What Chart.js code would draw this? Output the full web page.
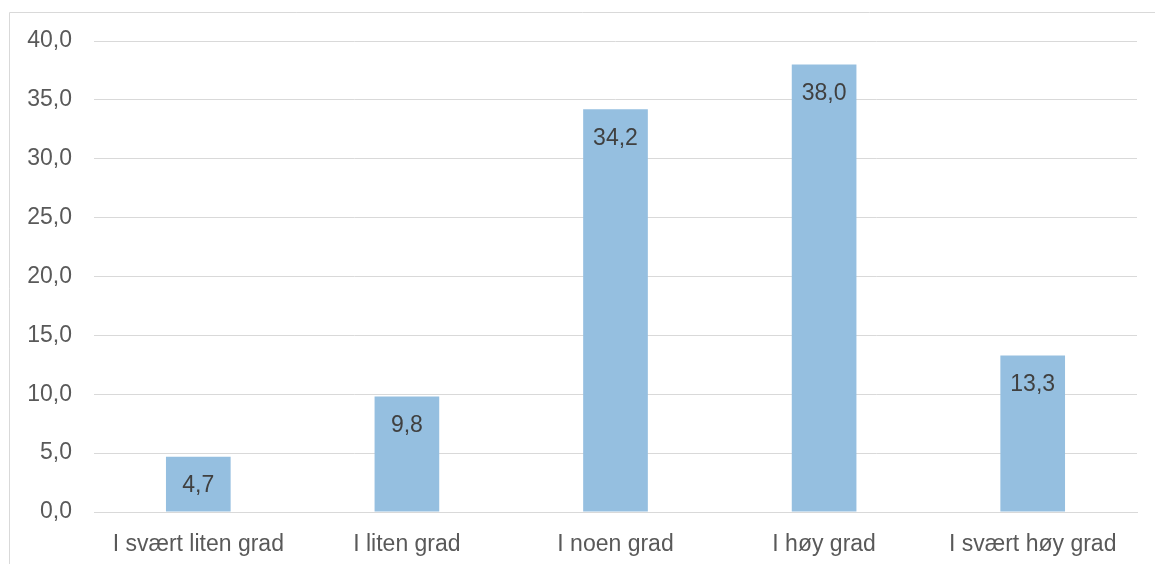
<!DOCTYPE html>
<html>
<head>
<meta charset="utf-8">
<script src="https://cdn.jsdelivr.net/npm/chart.js@4"></script>
<style>
  html, body { margin: 0; padding: 0; background: #fff; }
  #wrap { width: 1155px; height: 564px; position: relative; }
</style>
</head>
<body>
<div id="wrap"><canvas id="chart" width="1155" height="564"></canvas></div>
<script>
const categories = ['I svært liten grad', 'I liten grad', 'I noen grad', 'I høy grad', 'I svært høy grad'];
const values = [4.7, 9.8, 34.2, 38.0, 13.3];
const yTicks = [0, 5, 10, 15, 20, 25, 30, 35, 40];

const textColor = '#595959';
const gridColor = '#D9D9D9';
const fontFamily = '"Liberation Sans", Arial, sans-serif';
const fontSize = 23;

const fmt = v => v.toFixed(1).replace('.', ',');

// frame around the chart, like the copied office chart
const framePlugin = {
  id: 'frame',
  beforeDraw(chart) {
    const ctx = chart.ctx;
    ctx.save();
    ctx.strokeStyle = gridColor;
    ctx.lineWidth = 1;
    ctx.beginPath();
    ctx.moveTo(9.5, 600);
    ctx.lineTo(9.5, 12.5);
    ctx.lineTo(1200, 12.5);
    ctx.stroke();
    ctx.restore();
  }
};

// value labels inside the top of each bar
const valueLabels = {
  id: 'valueLabels',
  afterDatasetsDraw(chart) {
    const ctx = chart.ctx;
    const meta = chart.getDatasetMeta(0);
    ctx.save();
    ctx.fillStyle = '#404040';
    ctx.font = fontSize + 'px ' + fontFamily;
    ctx.textAlign = 'center';
    ctx.textBaseline = 'middle';
    meta.data.forEach((bar, i) => {
      ctx.fillText(fmt(values[i]), bar.x, bar.y + 29);
    });
    ctx.restore();
  }
};

new Chart(document.getElementById('chart'), {
  type: 'bar',
  data: {
    labels: categories,
    datasets: [{
      data: values,
      backgroundColor: '#95BFE0',
      borderWidth: 0,
      categoryPercentage: 1,
      barPercentage: 0.31
    }]
  },
  options: {
    responsive: false,
    animation: false,
    events: [],
    layout: { padding: { top: 41, right: 18, bottom: 0, left: 0 } },
    plugins: {
      legend: { display: false },
      tooltip: { enabled: false }
    },
    scales: {
      x: {
        grid: { display: false, drawTicks: false },
        border: { color: gridColor },
        ticks: {
          color: textColor,
          font: { family: fontFamily, size: fontSize },
          padding: 19,
          maxRotation: 0
        },
        afterFit: s => { s.height = 52; }
      },
      y: {
        min: 0,
        max: 40,
        afterBuildTicks: s => { s.ticks = yTicks.map(v => ({ value: v })); },
        grid: { color: gridColor, drawTicks: false },
        border: { display: false },
        ticks: {
          color: textColor,
          font: { family: fontFamily, size: fontSize },
          padding: 22,
          callback: v => fmt(v)
        },
        afterFit: s => { s.width = 94; }
      }
    }
  },
  plugins: [framePlugin, valueLabels]
});
</script>
</body>
</html>
